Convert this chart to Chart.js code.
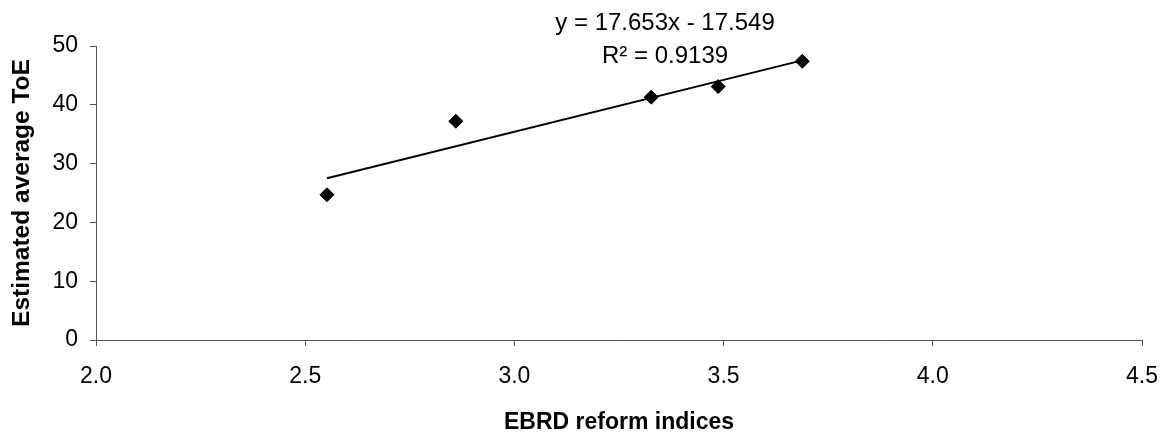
<!DOCTYPE html>
<html>
<head>
<meta charset="utf-8">
<script src="https://cdn.jsdelivr.net/npm/chart.js@4/dist/chart.umd.min.js"></script>
<style>
  html, body { margin: 0; padding: 0; background: #fff; }
  #wrap { width: 1175px; height: 437px; }
</style>
</head>
<body>
<div id="wrap"><canvas id="chart"></canvas></div>
<script>
// data
const reformIdx = [2.552, 2.86, 3.327, 3.487, 3.688];
const avgToE = [24.7, 37.2, 41.3, 43.1, 47.4];

// linear trendline, ends
const trendX = [2.552, 3.688];
const trendY = [27.5, 47.56];

const eqLines = ["y = 17.653x - 17.549", "R\u00B2 = 0.9139"];

const xTicks = [2.0, 2.5, 3.0, 3.5, 4.0, 4.5];
const yTicks = [0, 10, 20, 30, 40, 50];

const axisColor = "#555";
const fontFam = "'Liberation Sans', Arial, sans-serif";

// equation label above the trendline
const eqLabel = {
  id: "eqLabel",
  afterDraw(chart) {
    const ctx = chart.ctx;
    const x = chart.scales.x.getPixelForValue(3.36);
    ctx.save();
    ctx.fillStyle = "#000";
    ctx.font = "24px " + fontFam;
    ctx.textAlign = "center";
    ctx.textBaseline = "middle";
    ctx.fillText(eqLines[0], x, 23);
    ctx.fillText(eqLines[1], x, 56);
    ctx.restore();
  }
};

new Chart(document.getElementById("chart"), {
  type: "scatter",
  data: {
    datasets: [
      {
        label: "ToE",
        data: reformIdx.map((v, i) => ({ x: v, y: avgToE[i] })),
        pointStyle: "rectRot",
        pointRadius: 7,
        pointBorderWidth: 1,
        backgroundColor: "#000",
        borderColor: "#000"
      },
      {
        label: "Linear",
        data: trendX.map((v, i) => ({ x: v, y: trendY[i] })),
        showLine: true,
        pointRadius: 0,
        borderColor: "#000",
        borderWidth: 2
      }
    ]
  },
  options: {
    responsive: true,
    maintainAspectRatio: false,
    animation: false,
    layout: { padding: { top: 46, right: 32, left: 0, bottom: 0 } },
    plugins: {
      legend: { display: false },
      tooltip: { enabled: false }
    },
    scales: {
      x: {
        type: "linear",
        min: 2,
        max: 4.5,
        afterBuildTicks: s => { s.ticks = xTicks.map(v => ({ value: v })); },
        afterFit: s => { s.height = 97; },
        ticks: {
          callback: v => v.toFixed(1),
          color: "#000",
          font: { family: fontFam, size: 23 },
          padding: 17,
          maxRotation: 0
        },
        grid: { drawOnChartArea: false, tickLength: 6, color: axisColor },
        border: { color: axisColor, width: 1 },
        title: {
          display: true,
          text: "EBRD reform indices",
          color: "#000",
          font: { family: fontFam, size: 23, weight: "bold" },
          padding: { top: 0, bottom: 1 }
        }
      },
      y: {
        min: 0,
        max: 50,
        afterBuildTicks: s => { s.ticks = yTicks.map(v => ({ value: v })); },
        afterFit: s => { s.width = 96; },
        ticks: {
          color: "#000",
          font: { family: fontFam, size: 23 },
          padding: 12
        },
        grid: { drawOnChartArea: false, tickLength: 6, color: axisColor },
        border: { color: axisColor, width: 1 },
        title: {
          display: true,
          text: "Estimated average ToE",
          color: "#000",
          font: { family: fontFam, size: 24.5, weight: "bold" },
          padding: { top: 8, bottom: 0 }
        }
      }
    }
  },
  plugins: [eqLabel]
});
</script>
</body>
</html>
